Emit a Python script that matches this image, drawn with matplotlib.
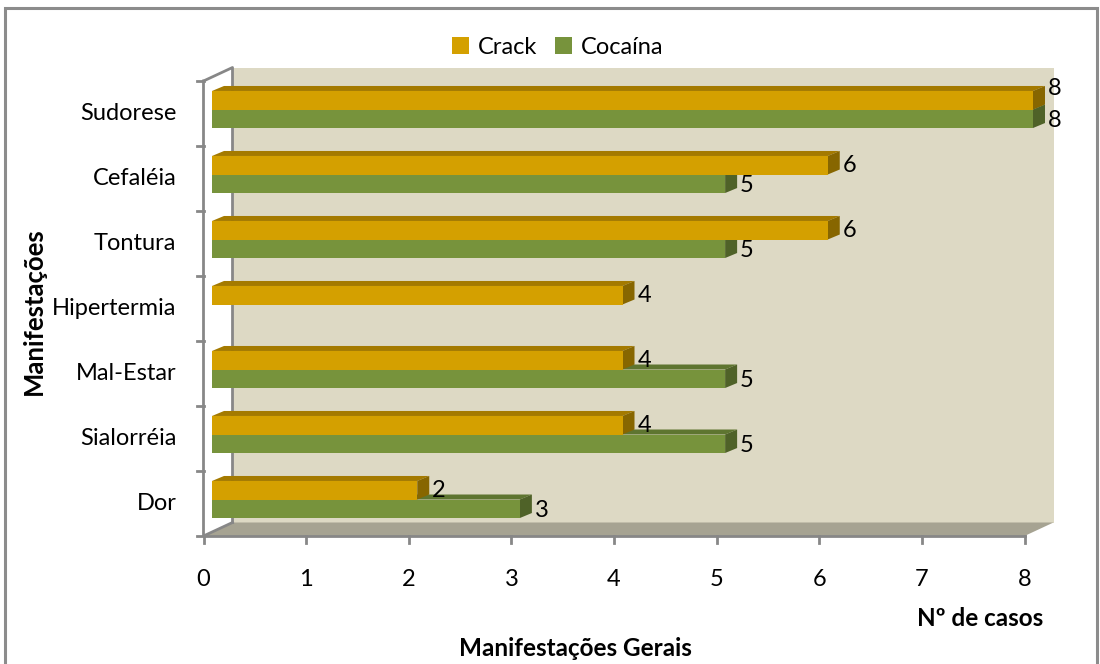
import numpy as np
import matplotlib.pyplot as plt
from matplotlib.patches import Polygon, Patch, Rectangle
from matplotlib.lines import Line2D
from matplotlib.transforms import IdentityTransform

plt.rcParams['font.family'] = ['Lato', 'DejaVu Sans']

categorias = ["Sudorese", "Cefaléia", "Tontura", "Hipertermia", "Mal-Estar", "Sialorréia", "Dor"]
crack = [8, 6, 6, 4, 4, 4, 2]
cocaina = [8, 5, 5, 0, 5, 5, 3]
xticks = [0, 1, 2, 3, 4, 5, 6, 7, 8]

cor_crack = "#D4A000"
cor_crack_topo = "#A47A00"
cor_crack_lado = "#876600"
cor_coca = "#77933C"
cor_coca_topo = "#5E7530"
cor_coca_lado = "#4F6228"
cor_parede = "#DDD9C4"
cor_piso = "#A6A392"
cor_eixo = "#878787"

W, H = 1100, 664
fig = plt.figure(figsize=(W / 100, H / 100), dpi=100)

# axes placed on the plane where the bars' front faces sit (pixel box)
x0_px, x1_px, y0_px, y1_px = 212, 1033, 77, 532
ax = fig.add_axes([x0_px / W, 1 - y1_px / H, (x1_px - x0_px) / W, (y1_px - y0_px) / H])
ax.set_xlim(0, 8)
ax.set_ylim(len(categorias) - 0.5, -0.5)
ax.axis("off")

# depth offsets in pixels (display coords, y up)
traseira = np.array([20.5, 9.5])
frente = np.array([-8.5, -4.0])
prof = np.array([12.0, 5.0])
ident = IdentityTransform()


def px(x, y, off=(0, 0)):
    return ax.transData.transform((x, y)) + np.asarray(off)


def poly(pts, cor, z):
    ax.add_patch(Polygon(pts, closed=True, facecolor=cor, edgecolor="none",
                         transform=ident, zorder=z, clip_on=False))


def linha(pts, lw=2.0, z=1):
    pts = np.array(pts)
    ax.add_line(Line2D(pts[:, 0], pts[:, 1], color=cor_eixo, lw=lw,
                       transform=ident, zorder=z, clip_on=False))


ymin, ymax = -0.5, len(categorias) - 0.5

# back wall and floor
poly([px(0, ymin, traseira), px(8, ymin, traseira), px(8, ymax, traseira), px(0, ymax, traseira)],
     cor_parede, 0.5)
poly([px(0, ymax, frente), px(8, ymax, frente), px(8, ymax, traseira), px(0, ymax, traseira)],
     cor_piso, 0.5)

# axis frame lines
linha([px(0, ymin, frente), px(0, ymin, traseira), px(0, ymax, traseira)])
linha([px(0, ymin, frente), px(0, ymax, frente), px(0, ymax, traseira)])
linha([px(0, ymax, frente), px(8, ymax, frente)])
for k in range(len(categorias) + 1):
    p = px(0, k - 0.5, frente)
    linha([p, p + np.array([-7, 0])])
for t in xticks:
    p = px(t, ymax, frente)
    linha([p, p + np.array([0, -7])])
    fig.text(p[0] / W, (p[1] - 44) / H, str(t), ha="center", va="center", fontsize=17)

for i, nome in enumerate(categorias):
    p = px(0, i, frente)
    fig.text((p[0] - 27) / W, p[1] / H, nome, ha="right", va="center", fontsize=17)

h = 0.285


def barra_3d(v, ytop, ybot, cf, ct, cl, z):
    if v <= 0:
        return
    ax.barh((ytop + ybot) / 2, v, height=ybot - ytop, left=0, color=cf, zorder=z + 0.2,
            clip_on=False)
    poly([px(0, ytop), px(v, ytop), px(v, ytop, prof), px(0, ytop, prof)], ct, z)
    poly([px(v, ytop), px(v, ybot), px(v, ybot, prof), px(v, ytop, prof)], cl, z)


# cocaína first (lower bars), then crack drawn over it
for i in range(len(categorias)):
    barra_3d(cocaina[i], i, i + h, cor_coca, cor_coca_topo, cor_coca_lado, 2)
for i in range(len(categorias)):
    barra_3d(crack[i], i - h, i, cor_crack, cor_crack_topo, cor_crack_lado, 3)

# value labels
for i in range(len(categorias)):
    if crack[i] > 0:
        dy = 12 if crack[i] == cocaina[i] else 0
        p = px(crack[i], i - h / 2)
        fig.text((p[0] + 15) / W, (p[1] + dy) / H, str(crack[i]), ha="left", va="center",
                 fontsize=17, zorder=7)
    if cocaina[i] > 0:
        p = px(cocaina[i], i + h / 2)
        fig.text((p[0] + 15) / W, (p[1] - 2) / H, str(cocaina[i]), ha="left", va="center",
                 fontsize=17, zorder=7)

# titles
fig.text(575 / W, 1 - 648 / H, "Manifestações Gerais", ha="center", va="center",
         fontsize=17.5, fontweight="bold")
fig.text(1043 / W, 1 - 618 / H, "Nº de casos", ha="right", va="center",
         fontsize=17.5, fontweight="bold")
fig.text(34 / W, 1 - 311 / H, "Manifestações", ha="center", va="center", rotation=90,
         fontsize=18.5, fontweight="bold")

# legend
handles = [Patch(facecolor=cor_crack, label="Crack"), Patch(facecolor=cor_coca, label="Cocaína")]
fig.legend(handles=handles, loc="center", bbox_to_anchor=(558 / W, 1 - 47 / H), ncol=2,
           frameon=False, fontsize=17, handlelength=0.7, handleheight=0.7,
           handletextpad=0.4, columnspacing=0.75)

# chart border
fig.patches.append(Rectangle((5, -20), 1092, H - 8 + 20, fill=False, edgecolor="#8C8C8C",
                             lw=2.2, transform=ident, figure=fig, zorder=10))

fig.savefig("out.png", dpi=100)
